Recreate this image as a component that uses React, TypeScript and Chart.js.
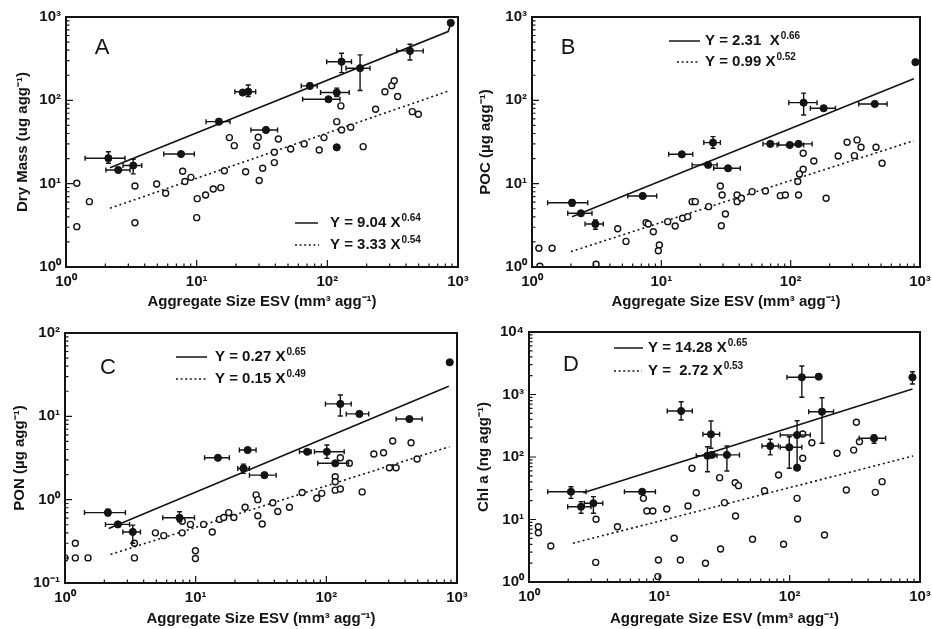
import React, { useEffect, useRef } from 'react';
import { Chart, registerables } from 'chart.js';
Chart.register(...registerables);

const FONT = '"Liberation Sans", Arial, Helvetica, sans-serif';
const INK = '#141414';

// ---------- Panel A : Dry Mass ----------
const aOpenX = [1.21, 1.21, 1.51, 3.37, 3.37, 4.94, 5.79, 7.81, 8.13, 9.04, 10.1, 10.0, 11.7, 13.4, 15.3, 16.3, 17.8, 19.4, 23.7, 29.6, 28.8, 32.0, 30.1, 42.2, 39.3, 39.3, 52.4, 66.5, 86.7, 94.2, 118, 128.5, 127, 151, 188, 234, 276, 311, 325, 345, 447, 497];
const aOpenY = [10.1, 3.05, 6.08, 9.38, 3.40, 9.91, 7.67, 14.1, 10.6, 11.9, 6.61, 3.91, 7.32, 8.63, 8.96, 14.3, 35.7, 28.6, 13.9, 36.1, 28.4, 15.3, 10.9, 34.4, 23.8, 17.9, 26.1, 30.0, 25.4, 35.7, 55.5, 44.1, 85.7, 47.5, 27.8, 78.2, 127, 150, 172, 111, 73.1, 68.1];
const aFillX = [2.11, 2.51, 3.27, 7.59, 14.8, 24.8, 22.5, 33.9, 73.6, 128.5, 118, 102, 178, 429, 880, 118];
const aFillY = [20.2, 14.6, 16.5, 22.7, 55.5, 127, 124, 44.1, 149, 291, 124, 103, 243, 392, 850, 27.3];
const aXLo = [1.4, 2.02, 2.73, 5.6, 11.8, 19.6, null, 26.0, 63.2, 98.8, 88.7, 64.7, 139, 339, null, null];
const aXHi = [2.83, 3.09, 3.80, 9.6, 18.0, 28.3, null, 41.6, 83.7, 153, 147, 125, 212, 542, null, null];
const aYLo = [17.6, null, 13.1, null, null, 111, null, null, null, 215, 111, null, 131, 305, null, null];
const aYHi = [24.2, null, 19.6, null, null, 153, null, null, null, 367, 140, null, 351, 471, null, null];
const aSolidX = [2.17, 840, 880];
const aSolidY = [15.5, 668, 820];
const aDotX = [2.17, 867];
const aDotY = [5.07, 131];

// ---------- Panel B : POC ----------
const bOpenX = [1.13, 1.43, 1.15, 3.13, 4.60, 5.33, 7.62, 7.93, 8.67, 9.65, 9.48, 11.2, 12.8, 14.6, 16.0, 17.3, 18.3, 23.2, 28.6, 29.5, 31.3, 29.1, 38.5, 38.5, 41.6, 50.3, 63.8, 83.2, 91.0, 115, 113.5, 117, 125, 125, 151, 188, 233, 273, 311, 326, 350, 457, 509];
const bOpenY = [1.68, 1.68, 1.02, 1.08, 2.88, 2.03, 3.40, 3.28, 2.65, 1.84, 1.57, 3.50, 3.11, 3.84, 4.02, 6.08, 6.08, 5.30, 9.38, 7.32, 4.33, 3.13, 7.32, 6.08, 6.68, 8.02, 8.17, 7.18, 7.32, 7.32, 10.6, 13.1, 14.9, 23.2, 18.7, 6.68, 21.5, 31.4, 21.7, 33.5, 27.3, 27.3, 17.6];
const bFillX = [2.04, 2.39, 3.09, 7.18, 14.4, 25.1, 23.0, 32.8, 69.6, 98.4, 115, 126, 180, 447, 922];
const bFillY = [5.91, 4.41, 3.28, 7.12, 22.5, 31.1, 16.8, 15.3, 30.0, 29.1, 30.0, 93.8, 80.4, 90.5, 287];
const bXLo = [1.32, 1.89, 2.57, 5.50, 11.4, 21.3, 17.3, 25.4, 61.1, 78.5, 96.7, 96.7, 142, 336, null];
const bXHi = [2.70, 2.91, 3.56, 9.21, 17.5, 28.6, 27.0, 40.8, 80.9, 126, 146.6, 160, 222, 557, null];
const bYLo = [5.40, null, 2.84, null, null, 26.6, null, null, null, null, null, 66.8, null, null, null];
const bYHi = [6.37, null, 3.66, null, null, 36.7, null, null, null, null, null, 122, null, null, null];
const bSolidX = [2.04, 896];
const bSolidY = [4.02, 181];
const bDotX = [2.0, 896];
const bDotY = [1.53, 32.8];

// ---------- Panel C : PON ----------
const cOpenX = [1.20, 1.20, 1.50, 1.0, 3.40, 3.40, 4.92, 5.70, 7.88, 7.9, 9.12, 9.96, 9.96, 11.5, 13.4, 15.2, 16.4, 17.9, 19.6, 23.9, 29.0, 29.9, 29.9, 32.3, 38.9, 42.5, 52.2, 65.3, 84.5, 92.3, 117, 117, 117, 128, 128, 150, 188, 231, 274, 304, 342, 322, 445, 495];
const cOpenY = [0.30, 0.20, 0.20, 0.20, 0.30, 0.20, 0.40, 0.37, 0.40, 0.55, 0.505, 0.244, 0.197, 0.505, 0.41, 0.58, 0.61, 0.70, 0.61, 0.81, 1.14, 1.0, 0.64, 0.51, 0.92, 0.72, 0.81, 1.22, 1.04, 1.19, 1.88, 1.64, 1.30, 1.34, 3.18, 2.73, 1.24, 3.53, 3.66, 2.42, 2.42, 5.05, 4.82, 3.07];
const cFillX = [2.13, 2.54, 3.30, 7.52, 14.8, 25.0, 23.2, 33.6, 71.3, 101, 117, 128, 179, 432, 880];
const cFillY = [0.70, 0.505, 0.41, 0.607, 3.18, 3.94, 2.37, 1.97, 3.76, 3.76, 2.73, 14.1, 10.7, 9.28, 44.5];
const cXLo = [1.41, 2.04, 2.77, 5.6, 11.7, 21.6, 21.0, 25.8, 62.3, 81.1, 86, 98.4, 142, 342, null];
const cXHi = [2.90, 3.12, 3.78, 9.8, 18.1, 29.0, 25.8, 41.3, 76.5, 137, 148, 155, 211, 541, null];
const cYLo = [0.64, null, 0.30, 0.543, null, null, 2.07, null, null, 3.13, null, 10.1, null, null, null];
const cYHi = [0.77, null, 0.495, 0.716, null, null, 2.67, null, null, 4.52, null, 18.0, null, null, null];
const cSolidX = [2.16, 865];
const cSolidY = [0.45, 23];
const cDotX = [2.23, 875];
const cDotY = [0.22, 4.32];

// ---------- Panel D : Chl a ----------
const dOpenX = [1.18, 1.18, 1.47, 3.27, 3.25, 4.77, 7.55, 8.02, 8.91, 9.74, 9.84, 11.4, 13.0, 14.5, 16.6, 17.8, 19.2, 22.6, 29.0, 29.5, 31.6, 38.2, 38.4, 40.5, 51.9, 64.1, 82.2, 89.8, 114, 115, 126, 126, 148, 185, 231, 272, 310, 325, 343, 454, 512];
const dOpenY = [7.67, 6.15, 3.77, 10.1, 2.06, 7.67, 21.8, 13.7, 13.7, 1.22, 2.25, 14.7, 5.0, 2.25, 16.4, 65.9, 26.8, 1.99, 46.7, 3.37, 18.6, 38.8, 11.4, 34.8, 4.82, 28.9, 51.5, 4.01, 21.8, 10.2, 233, 95.3, 169, 5.65, 115, 29.6, 129, 359, 176, 27.2, 40.3];
const dFillX = [2.10, 2.51, 3.12, 7.38, 14.7, 24.9, 23.4, 25.3, 33.0, 71.0, 99.3, 114, 114, 124, 167, 177, 444, 875];
const dFillY = [27.8, 16.0, 18.2, 27.8, 545, 231, 105, 108, 108, 150, 143, 225, 67.4, 1884, 1928, 531, 199, 1884];
const dXLo = [1.39, 1.98, 2.66, 5.40, 11.5, 21.6, 19.2, null, 26.4, 61.3, 84.7, 84.7, null, 95.3, null, 140, 341, null];
const dXHi = [2.74, 2.99, 3.68, 9.33, 17.9, 29.0, 27.7, null, 41.2, 82.2, 124, 144, null, 167, null, 217, 545, null];
const dYLo = [21.8, 12.6, 12.6, null, 391, 138, 58.2, null, 59.7, 108, 65.9, 65.9, null, 902, null, 166, 166, 1472];
const dYHi = [33.5, 19.3, 23.2, null, 767, 377, 146, null, 150, 192, 211, 381, null, 2858, null, 889, 225, 2317];
const dSolidX = [2.61, 875];
const dSolidY = [26.8, 1225];
const dDotX = [2.17, 885];
const dDotY = [4.16, 104];

const X_TITLE = 'Aggregate Size ESV (mm\u00B3 agg\u207B\u00B9)';

const SUP: Record<string, string> = { '-': '\u207B', '0': '\u2070', '1': '\u00B9', '2': '\u00B2', '3': '\u00B3', '4': '\u2074', '5': '\u2075' };
const fmtPow = (v: number) => {
  const e = Math.round(Math.log10(v));
  return '10' + String(e).split('').map((c) => SUP[c]).join('');
};
const decades = (min: number, max: number) => {
  const out: any[] = [];
  for (let e = Math.round(Math.log10(min)); e <= Math.round(Math.log10(max)); e++) out.push({ value: Math.pow(10, e) });
  return out;
};
const pts = (xs: number[], ys: number[]) => xs.map((x, i) => ({ x, y: ys[i] }));

const panels = [
  {
    id: 'A', cx: 0, cy: 0, w: 482, h: 314, area: { l: 66, t: 17, r: 458, b: 267 }, yMin: 1, yMax: 1000,
    yTitle: 'Dry Mass (ug agg\u207B\u00B9)', yTitlePad: 14, xTitlePad: 3, letter: { x: 102, y: 48 },
    eqs: [
      { x1: 295, x2: 318, y: 223, dash: false, tx: 330, main: 'Y = 9.04 X', sup: '0.64' },
      { x1: 295, x2: 319, y: 245, dash: true, tx: 330, main: 'Y = 3.33 X', sup: '0.54' },
    ],
    open: pts(aOpenX, aOpenY), fill: pts(aFillX, aFillY), xlo: aXLo, xhi: aXHi, ylo: aYLo, yhi: aYHi,
    solid: pts(aSolidX, aSolidY), dotted: pts(aDotX, aDotY),
  },
  {
    id: 'B', cx: 466, cy: 0, w: 466, h: 314, area: { l: 66, t: 17, r: 454, b: 267 }, yMin: 1, yMax: 1000,
    yTitle: 'POC (\u00B5g agg\u207B\u00B9)', yTitlePad: 11, xTitlePad: 3, letter: { x: 568, y: 48 },
    eqs: [
      { x1: 669, x2: 700, y: 41, dash: false, tx: 705, main: 'Y = 2.31  X', sup: '0.66' },
      { x1: 677, x2: 700, y: 62, dash: true, tx: 705, main: 'Y = 0.99 X', sup: '0.52' },
    ],
    open: pts(bOpenX, bOpenY), fill: pts(bFillX, bFillY), xlo: bXLo, xhi: bXHi, ylo: bYLo, yhi: bYHi,
    solid: pts(bSolidX, bSolidY), dotted: pts(bDotX, bDotY),
  },
  {
    id: 'C', cx: 0, cy: 314, w: 482, h: 315, area: { l: 65, t: 19, r: 457, b: 269 }, yMin: 0.1, yMax: 100,
    yTitle: 'PON (\u00B5g agg\u207B\u00B9)', yTitlePad: 11, xTitlePad: 1, letter: { x: 108, y: 368 },
    eqs: [
      { x1: 176, x2: 207, y: 357, dash: false, tx: 215, main: 'Y = 0.27 X', sup: '0.65' },
      { x1: 176, x2: 207, y: 379, dash: true, tx: 215, main: 'Y = 0.15 X', sup: '0.49' },
    ],
    open: pts(cOpenX, cOpenY), fill: pts(cFillX, cFillY), xlo: cXLo, xhi: cXHi, ylo: cYLo, yhi: cYHi,
    solid: pts(cSolidX, cSolidY), dotted: pts(cDotX, cDotY),
  },
  {
    id: 'D', cx: 466, cy: 314, w: 466, h: 315, area: { l: 63, t: 18, r: 454, b: 268 }, yMin: 1, yMax: 10000,
    yTitle: 'Chl a (ng agg\u207B\u00B9)', yTitlePad: 9, xTitlePad: 1, letter: { x: 571, y: 365 },
    eqs: [
      { x1: 614, x2: 643, y: 348, dash: false, tx: 648, main: 'Y = 14.28 X', sup: '0.65' },
      { x1: 614, x2: 642, y: 371, dash: true, tx: 648, main: 'Y =  2.72 X', sup: '0.53' },
    ],
    open: pts(dOpenX, dOpenY), fill: pts(dFillX, dFillY), xlo: dXLo, xhi: dXHi, ylo: dYLo, yhi: dYHi,
    solid: pts(dSolidX, dSolidY), dotted: pts(dDotX, dDotY),
  },
];

const decoPlugin = {
  id: 'deco',
  afterDatasetsDraw(chart: any, _args: any, opts: any) {
    const p = opts.panel;
    const ctx = chart.ctx;
    const xs = chart.scales.x;
    const ys = chart.scales.y;
    const ca = chart.chartArea;
    ctx.save();
    ctx.strokeStyle = INK;
    ctx.fillStyle = INK;
    // error bars
    ctx.lineWidth = 1.4;
    p.fill.forEach((pt: any, i: number) => {
      const px = xs.getPixelForValue(pt.x);
      const py = ys.getPixelForValue(pt.y);
      if (p.xlo[i] != null) {
        const a = xs.getPixelForValue(p.xlo[i]);
        const b = xs.getPixelForValue(p.xhi[i]);
        ctx.beginPath();
        ctx.moveTo(a, py); ctx.lineTo(b, py);
        ctx.moveTo(a, py - 2.5); ctx.lineTo(a, py + 2.5);
        ctx.moveTo(b, py - 2.5); ctx.lineTo(b, py + 2.5);
        ctx.stroke();
      }
      if (p.ylo[i] != null) {
        const a = ys.getPixelForValue(p.ylo[i]);
        const b = ys.getPixelForValue(p.yhi[i]);
        ctx.beginPath();
        ctx.moveTo(px, a); ctx.lineTo(px, b);
        ctx.moveTo(px - 2.5, a); ctx.lineTo(px + 2.5, a);
        ctx.moveTo(px - 2.5, b); ctx.lineTo(px + 2.5, b);
        ctx.stroke();
      }
    });
    // frame
    ctx.lineWidth = 2;
    ctx.strokeRect(ca.left, ca.top, ca.right - ca.left, ca.bottom - ca.top);
    // inward log ticks
    ctx.lineWidth = 1.2;
    ctx.beginPath();
    for (let e = 0; e < 3; e++) {
      for (let k = 1; k <= 9; k++) {
        const v = k * Math.pow(10, e);
        const px = xs.getPixelForValue(v);
        const len = k === 1 ? 7 : 3.5;
        ctx.moveTo(px, ca.bottom); ctx.lineTo(px, ca.bottom - len);
      }
    }
    const e0 = Math.round(Math.log10(p.yMin));
    const e1 = Math.round(Math.log10(p.yMax));
    for (let e = e0; e < e1; e++) {
      for (let k = 1; k <= 9; k++) {
        const v = k * Math.pow(10, e);
        const py = ys.getPixelForValue(v);
        const len = k === 1 ? 7 : 3.5;
        ctx.moveTo(ca.left, py); ctx.lineTo(ca.left + len, py);
      }
    }
    ctx.stroke();
    // panel letter
    ctx.font = `22px ${FONT}`;
    ctx.textAlign = 'center';
    ctx.textBaseline = 'middle';
    ctx.fillText(p.id, p.letter.x - p.cx, p.letter.y - p.cy);
    // equations legend
    ctx.textAlign = 'left';
    p.eqs.forEach((q: any) => {
      const y = q.y - p.cy;
      ctx.lineWidth = 1.5;
      ctx.setLineDash(q.dash ? [2, 2.6] : []);
      ctx.beginPath();
      ctx.moveTo(q.x1 - p.cx, y); ctx.lineTo(q.x2 - p.cx, y);
      ctx.stroke();
      ctx.setLineDash([]);
      ctx.font = `bold 15px ${FONT}`;
      ctx.fillText(q.main, q.tx - p.cx, y);
      const w = ctx.measureText(q.main).width;
      ctx.font = `bold 10px ${FONT}`;
      ctx.fillText(q.sup, q.tx - p.cx + w + 1, y - 5);
    });
    ctx.restore();
  },
};

function makeConfig(p: any) {
  const tickFont = { family: FONT, size: 15, weight: 'bold' as const };
  return {
    type: 'scatter' as const,
    data: {
      datasets: [
        { data: p.fill, pointRadius: 3.6, pointBackgroundColor: INK, pointBorderColor: INK, pointBorderWidth: 1, showLine: false },
        { data: p.open, pointRadius: 3, pointBackgroundColor: '#ffffff', pointBorderColor: INK, pointBorderWidth: 1.4, showLine: false },
        { data: p.solid, showLine: true, pointRadius: 0, borderColor: INK, borderWidth: 1.6, fill: false },
        { data: p.dotted, showLine: true, pointRadius: 0, borderColor: INK, borderWidth: 1.6, borderDash: [2, 3], fill: false },
      ],
    },
    options: {
      animation: false as const,
      responsive: false,
      events: [],
      layout: { padding: { left: 0, top: p.area.t, right: p.w - p.area.r, bottom: 0 } },
      plugins: { legend: { display: false }, tooltip: { enabled: false }, title: { display: false }, deco: { panel: p } },
      scales: {
        x: {
          type: 'logarithmic' as const, min: 1, max: 1000,
          grid: { display: false, drawTicks: false }, border: { display: false },
          ticks: { font: tickFont, color: INK, padding: 6, maxRotation: 0, autoSkip: false, callback: (v: any) => fmtPow(Number(v)) },
          title: { display: true, text: X_TITLE, color: INK, font: tickFont, padding: { top: 0, bottom: p.xTitlePad } },
          afterBuildTicks: (s: any) => { s.ticks = decades(1, 1000); },
          afterFit: (s: any) => { s.height = p.h - p.area.b; s.paddingLeft = 0; s.paddingRight = 0; },
        },
        y: {
          type: 'logarithmic' as const, min: p.yMin, max: p.yMax,
          grid: { display: false, drawTicks: false }, border: { display: false },
          ticks: { font: tickFont, color: INK, padding: 5, autoSkip: false, callback: (v: any) => fmtPow(Number(v)) },
          title: { display: true, text: p.yTitle, color: INK, font: tickFont, padding: { top: p.yTitlePad, bottom: 0 } },
          afterBuildTicks: (s: any) => { s.ticks = decades(p.yMin, p.yMax); },
          afterFit: (s: any) => { s.width = p.area.l; s.paddingTop = 0; s.paddingBottom = 0; },
        },
      },
    },
    plugins: [decoPlugin],
  };
}

function Panel({ p }: { p: any }) {
  const ref = useRef<HTMLCanvasElement | null>(null);
  useEffect(() => {
    const chart = new Chart(ref.current as HTMLCanvasElement, makeConfig(p) as any);
    return () => chart.destroy();
  }, []);
  return (
    <canvas
      ref={ref}
      width={p.w}
      height={p.h}
      style={{ position: 'absolute', left: p.cx, top: p.cy, width: p.w, height: p.h }}
    />
  );
}

export default function App() {
  useEffect(() => {
    document.body.style.margin = '0';
    document.body.style.background = '#ffffff';
  }, []);
  return (
    <div style={{ position: 'relative', width: 932, height: 629, background: '#ffffff', overflow: 'hidden' }}>
      {panels.map((p) => (
        <Panel key={p.id} p={p} />
      ))}
    </div>
  );
}
